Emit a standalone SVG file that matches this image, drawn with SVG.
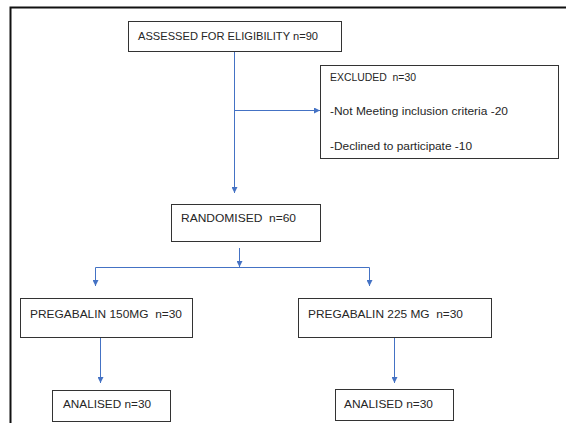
<svg xmlns="http://www.w3.org/2000/svg" width="566" height="423" viewBox="0 0 566 423">
<defs>
<marker id="ah" viewBox="0 0 10 10" refX="10" refY="5" markerWidth="6" markerHeight="6" markerUnits="userSpaceOnUse" orient="auto">
<path d="M0,0 L10,5 L0,10 z" fill="#4472C4"/>
</marker>
</defs>
<style>
.box{fill:#fff;stroke:#333;stroke-width:1}
.t{font-family:"Liberation Sans",Arial,sans-serif;font-size:11px;fill:#262626}
.c{fill:none;stroke:#4472C4;stroke-width:1}
.a{marker-end:url(#ah)}
</style>
<rect x="0" y="0" width="566" height="423" fill="#fff"/>
<rect x="10.5" y="7.5" width="580" height="440" fill="none" stroke="#111" stroke-width="2"/>
<g id="connectors">
<line class="c a" x1="234.5" y1="52" x2="234.5" y2="193"/>
<line class="c a" x1="234.5" y1="110.5" x2="320" y2="110.5"/>
<line class="c a" x1="239.5" y1="248" x2="239.5" y2="267"/>
<line class="c" x1="95.5" y1="267.5" x2="369.5" y2="267.5"/>
<line class="c a" x1="95.5" y1="267.5" x2="95.5" y2="286"/>
<line class="c a" x1="369.5" y1="267.5" x2="369.5" y2="286"/>
<line class="c a" x1="100.5" y1="338" x2="100.5" y2="383"/>
<line class="c a" x1="394.5" y1="338" x2="394.5" y2="383"/>
</g>
<g id="assessed">
<rect class="box" x="128.5" y="21.5" width="213" height="30"/>
<text class="t" x="138" y="40" textLength="180" lengthAdjust="spacingAndGlyphs">ASSESSED FOR ELIGIBILITY n=90</text>
</g>
<g id="excluded">
<rect class="box" x="320.5" y="65.5" width="238" height="93"/>
<text class="t" x="330" y="81" textLength="86" lengthAdjust="spacingAndGlyphs" xml:space="preserve">EXCLUDED  n=30</text>
<text class="t" x="330" y="115" textLength="178" lengthAdjust="spacingAndGlyphs">-Not Meeting inclusion criteria -20</text>
<text class="t" x="330" y="150" textLength="142" lengthAdjust="spacingAndGlyphs">-Declined to participate -10</text>
</g>
<g id="randomised">
<rect class="box" x="171.5" y="204.5" width="149" height="37"/>
<text class="t" x="181" y="222" textLength="115" lengthAdjust="spacingAndGlyphs" xml:space="preserve">RANDOMISED  n=60</text>
</g>
<g id="pregabalin150">
<rect class="box" x="20.5" y="298.5" width="172" height="39"/>
<text class="t" x="30" y="318" textLength="152" lengthAdjust="spacingAndGlyphs" xml:space="preserve">PREGABALIN 150MG  n=30</text>
</g>
<g id="pregabalin225">
<rect class="box" x="298.5" y="298.5" width="193" height="39"/>
<text class="t" x="308" y="318" textLength="155" lengthAdjust="spacingAndGlyphs" xml:space="preserve">PREGABALIN 225 MG  n=30</text>
</g>
<g id="analised1">
<rect class="box" x="52.5" y="390.5" width="118" height="31"/>
<text class="t" x="63" y="408" textLength="88" lengthAdjust="spacingAndGlyphs">ANALISED n=30</text>
</g>
<g id="analised2">
<rect class="box" x="335.5" y="389.5" width="118" height="31"/>
<text class="t" x="344" y="408" textLength="89" lengthAdjust="spacingAndGlyphs">ANALISED n=30</text>
</g>
</svg>
